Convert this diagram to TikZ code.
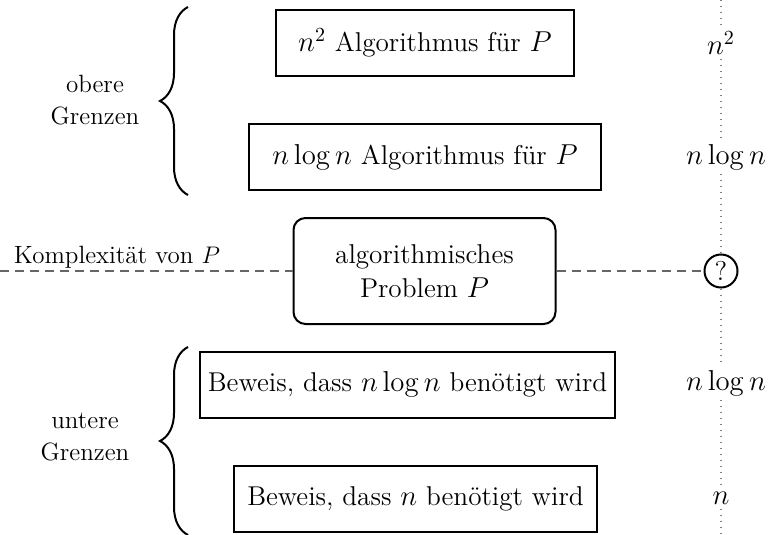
\documentclass[tikz,border=0pt]{standalone}
\usepackage{tikz}
\usetikzlibrary{decorations.pathreplacing}

\begin{document}
\begin{tikzpicture}[
				x=0.5pt, y=-0.5pt,
				font=\fontsize{13.6}{17}\selectfont,
				bound/.style={draw, line width=1pt, minimum height=33pt, inner sep=4pt},
				problem/.style={draw, line width=1pt, rounded corners=6pt, align=center, minimum width=131pt, minimum height=53pt},
				rank/.style={inner sep=2pt},
				side/.style={align=center, font=\fontsize{12.5}{16}\selectfont},
				guide/.style={gray, line width=0.6pt, dash pattern=on 0.6pt off 2.4pt},
				level/.style={gray!80!black, line width=0.8pt, dash pattern=on 4.5pt off 3pt},
				curly/.style={decorate, decoration={brace, amplitude=14pt}, line width=1pt}
				]
				\useasboundingbox (0,0) rectangle (771,535);
				
				% Nodes (upper bounds)
				\node[bound, minimum width=149pt] (up2) at (425,43) {$n^2$ Algorithmus für $P$};
				\node[bound, minimum width=176pt] (uplog) at (425,157) {$n\log n$ Algorithmus für $P$};
				
				% Nodes (problem)
				\node[problem] (prob) at (424.5,271) {algorithmisches\\Problem $P$};
				\node[side] (cplx) at (117,257) {Komplexität von $P$};
				
				% Nodes (lower bounds)
				\node[bound, minimum width=205.5pt] (lowlog) at (407.5,384.5) {Beweis, dass $n\log n$ benötigt wird};
				\node[bound, minimum width=181.5pt] (lown) at (415.5,498.5) {Beweis, dass $n$ benötigt wird};
				
				% Scale on the right
				\coordinate (top) at (721,0);
				\coordinate (bot) at (721,535);
				\node[rank] (r2) at (721,43) {$n^2$};
				\node[rank] (rlog) at (726,157) {$n\log n$};
				\node[draw, circle, line width=1pt, minimum size=16.5pt, inner sep=0pt] (q) at (721,271) {?};
				\node[rank] (rlowlog) at (726,383) {$n\log n$};
				\node[rank] (rn) at (721,498) {$n$};
				\draw[guide] (top) -- (r2);
				\draw[guide] (r2) -- (rlog.north -| q);
				\draw[guide] (rlog.south -| q) -- (q);
				\draw[guide] (q) -- (rlowlog.north -| q);
				\draw[guide] (rlowlog.south -| q) -- (rn);
				\draw[guide] (rn) -- (bot);
				
				% Complexity level
				\coordinate (lvl) at (0,271);
				\draw[level] (lvl) -- (prob);
				\draw[level] (prob) -- (q);
				
				% Braces
				\draw[curly] (188,195) -- (188,7);
				\node[side] (upper) at (95,100) {obere\\Grenzen};
				\draw[curly] (188,535) -- (188,347);
				\node[side] (lower) at (85,437) {untere\\Grenzen};
				
			\end{tikzpicture}
\end{document}
